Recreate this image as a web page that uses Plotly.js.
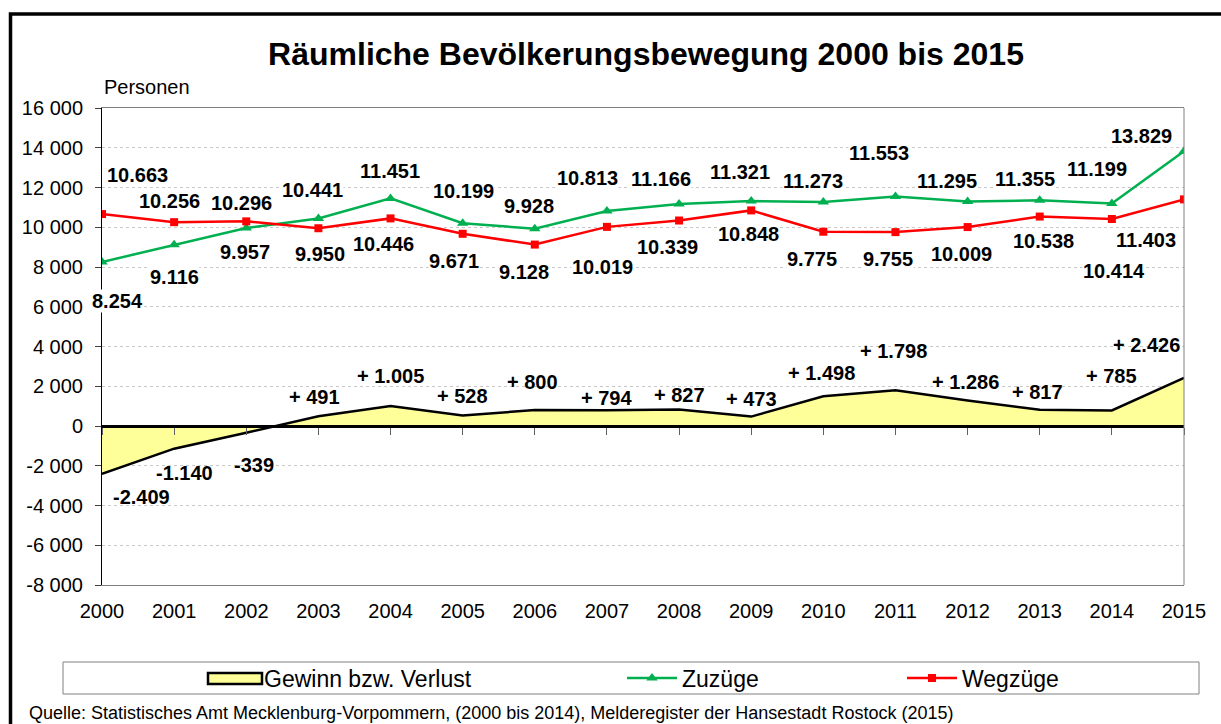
<!DOCTYPE html>
<html><head><meta charset="utf-8">
<script src="https://cdn.plot.ly/plotly-3.0.1.min.js"></script>
<style>html,body{margin:0;padding:0;background:#fff;} #chart{width:1221px;height:724px;}</style>
</head><body><div id="chart"></div>
<script>
// ---- data ----
const years = [2000, 2001, 2002, 2003, 2004, 2005, 2006, 2007, 2008, 2009, 2010, 2011, 2012, 2013, 2014, 2015];
const xTickText = ['2000','2001','2002','2003','2004','2005','2006','2007','2008','2009','2010','2011','2012','2013','2014','2015'];
const zuzuege = [8254, 9116, 9957, 10441, 11451, 10199, 9928, 10813, 11166, 11321, 11273, 11553, 11295, 11355, 11199, 13829];
const wegzuege = [10663, 10256, 10296, 9950, 10446, 9671, 9128, 10019, 10339, 10848, 9775, 9755, 10009, 10538, 10414, 11403];
const saldo = [-2409, -1140, -339, 491, 1005, 528, 800, 794, 827, 473, 1498, 1798, 1286, 817, 785, 2426];
const yTickVals = [-8000, -6000, -4000, -2000, 0, 2000, 4000, 6000, 8000, 10000, 12000, 14000, 16000];
const yTickText = ['-8 000', '-6 000', '-4 000', '-2 000', '0', '2 000', '4 000', '6 000', '8 000', '10 000', '12 000', '14 000', '16 000'];

// ---- label offsets (px, dx right / dy down) ----
const zuzOff = [[15,39],[0,32],[-1,24],[-6,-28],[-1,-27],[1,-32],[-6,-23],[-19,-33],[-18,-25],[-11,-29],[-10,-21],[-16,-43],[-21,-21],[-15,-21],[-15,-34],[-43,-15]];
const wegOff = [[35,-39],[-5,-21],[-5,-18],[2,26],[-7,26],[-9,27],[-11,27],[-4,40],[-12,26],[-3,24],[-11,27],[-7,27],[-6,27],[4,24],[2,52],[-38,41]];
const salOff = [[39,23],[10,24],[8,32],[-4,-19],[0,-30],[0,-20],[-2,-28],[0,-12],[0,-15],[0,-18],[-2,-23],[-2,-39],[-2,-18],[-2,-18],[0,-34],[-38,-33]];

const FONT = 'Liberation Sans, Arial, sans-serif';
const W = 1221, H = 724, L = 102, R = 37, T = 108, B = 139;
const pw = W - L - R, ph = H - T - B;
function px(x) { return (x - L) / pw; }
function py(y) { return 1 - (y - T) / ph; }

function de(v) {
  const s = Math.abs(v).toString().replace(/\B(?=(\d{3})+(?!\d))/g, '.');
  return v < 0 ? '-' + s : s;
}
function deSigned(v) { return v > 0 ? '+ ' + de(v) : de(v); }

const yMin = yTickVals[0], yMax = yTickVals[yTickVals.length - 1];

const traces = [
  { x: years, y: saldo, name: 'Gewinn bzw. Verlust', type: 'scatter', mode: 'lines',
    xaxis: 'x2', fill: 'tozeroy', fillcolor: '#FFFF99',
    line: { color: '#000000', width: 2.5 }, showlegend: false, hoverinfo: 'skip' },
  // legend entry for the area (swatch drawn as a shape behind it)
  { x: [null], y: [null], name: 'Gewinn bzw. Verlust', type: 'scatter', mode: 'lines',
    line: { color: 'rgba(0,0,0,0)', width: 0 }, legend: 'legend', hoverinfo: 'skip' },
  { x: years, y: zuzuege, name: 'Zuzüge', type: 'scatter', mode: 'lines+markers',
    line: { color: '#00B050', width: 2.5 }, marker: { symbol: 'triangle-up', size: 10, color: '#00B050' },
    legend: 'legend2', hoverinfo: 'skip' },
  { x: years, y: wegzuege, name: 'Wegzüge', type: 'scatter', mode: 'lines+markers',
    line: { color: '#FF0000', width: 2.5 }, marker: { symbol: 'square', size: 8, color: '#FF0000' },
    legend: 'legend3', hoverinfo: 'skip' }
];

const annotations = [];
function addLabels(vals, offs, fmt, bg) {
  vals.forEach((v, i) => {
    annotations.push({ x: years[i], y: v, xref: 'x', yref: 'y', text: fmt(v), showarrow: false,
      xshift: offs[i][0], yshift: -offs[i][1], xanchor: 'center', yanchor: 'middle',
      font: { family: FONT, size: 20, color: '#000', weight: 'bold' }, bgcolor: bg, borderpad: 0 });
  });
}
addLabels(zuzuege, zuzOff, de, '#ffffff');
addLabels(wegzuege, wegOff, de, '#ffffff');
addLabels(saldo, salOff, deSigned, 'rgba(0,0,0,0)');

annotations.push({ xref: 'paper', yref: 'paper', x: px(102), y: py(87), xanchor: 'left', yanchor: 'middle',
  text: 'Personen', showarrow: false, font: { family: FONT, size: 20, color: '#000' } });
annotations.push({ xref: 'paper', yref: 'paper', x: px(27), y: py(713), xanchor: 'left', yanchor: 'middle',
  text: 'Quelle: Statistisches Amt Mecklenburg-Vorpommern, (2000 bis 2014), Melderegister der Hansestadt Rostock (2015)',
  showarrow: false, font: { family: FONT, size: 18, color: '#000' } });

const legendBase = { orientation: 'h', yanchor: 'middle', xanchor: 'left', y: py(678),
  bgcolor: 'rgba(0,0,0,0)', borderwidth: 0, itemwidth: 50,
  font: { family: FONT, size: 23, color: '#000' } };

const layout = {
  width: W, height: H,
  margin: { l: L, r: R, t: T, b: B, pad: 0 },
  paper_bgcolor: '#ffffff', plot_bgcolor: '#ffffff',
  font: { family: FONT, color: '#000' },
  title: { text: '<b>Räumliche Bevölkerungsbewegung 2000 bis 2015</b>',
    font: { family: FONT, size: 32, color: '#000' },
    xref: 'container', yref: 'container', x: 646 / W, xanchor: 'center', y: 1 - 54 / H, yanchor: 'middle' },
  showlegend: true,
  legend: Object.assign({}, legendBase, { x: px(204) }),
  legend2: Object.assign({}, legendBase, { x: px(622) }),
  legend3: Object.assign({}, legendBase, { x: px(902) }),
  xaxis: { range: [years[0], years[years.length - 1]], tickvals: years, ticktext: xTickText,
    ticks: '', showline: true, linecolor: '#808080', linewidth: 1, mirror: true,
    showgrid: false, zeroline: false, tickfont: { family: FONT, size: 20, color: '#000' },
    ticklabelstandoff: 8, fixedrange: true },
  xaxis2: { overlaying: 'x', anchor: 'free', position: (0 - yMin) / (yMax - yMin),
    range: [years[0], years[years.length - 1]], tickvals: years, showticklabels: false,
    ticks: 'outside', ticklen: 7, tickwidth: 1, tickcolor: '#606060',
    showline: true, linecolor: '#000000', linewidth: 2.5, showgrid: false, zeroline: false, fixedrange: true },
  yaxis: { range: [yMin, yMax], tickvals: yTickVals, ticktext: yTickText,
    ticks: 'outside', ticklen: 6, tickcolor: '#404040', tickwidth: 1,
    showline: true, linecolor: '#000000', linewidth: 1,
    showgrid: true, gridcolor: '#c8c8c8', griddash: 'dot', gridwidth: 1, zeroline: false,
    tickfont: { family: FONT, size: 20, color: '#000' }, ticklabelstandoff: 8, fixedrange: true },
  shapes: [
    { type: 'line', xref: 'paper', yref: 'paper', x0: 1, x1: 1, y0: 0, y1: 1, line: { color: '#808080', width: 1 } },
    { type: 'rect', xref: 'paper', yref: 'paper', x0: px(63), x1: px(1199), y0: py(694), y1: py(662),
      line: { color: '#808080', width: 1 }, fillcolor: 'rgba(0,0,0,0)' },
    // legend swatch for the area series
    { type: 'rect', xref: 'paper', yref: 'paper', x0: px(208), x1: px(262), y0: py(684), y1: py(673),
      line: { color: '#000000', width: 2.5 }, fillcolor: '#FFFF99' },
    { type: 'rect', xref: 'paper', yref: 'paper', x0: px(10.5), x1: px(1245), y0: py(760), y1: py(14),
      line: { color: '#000000', width: 3.5 }, fillcolor: 'rgba(0,0,0,0)' }
  ],
  annotations: annotations
};

Plotly.newPlot('chart', traces, layout, { displayModeBar: false, staticPlot: true });
</script></body></html>
